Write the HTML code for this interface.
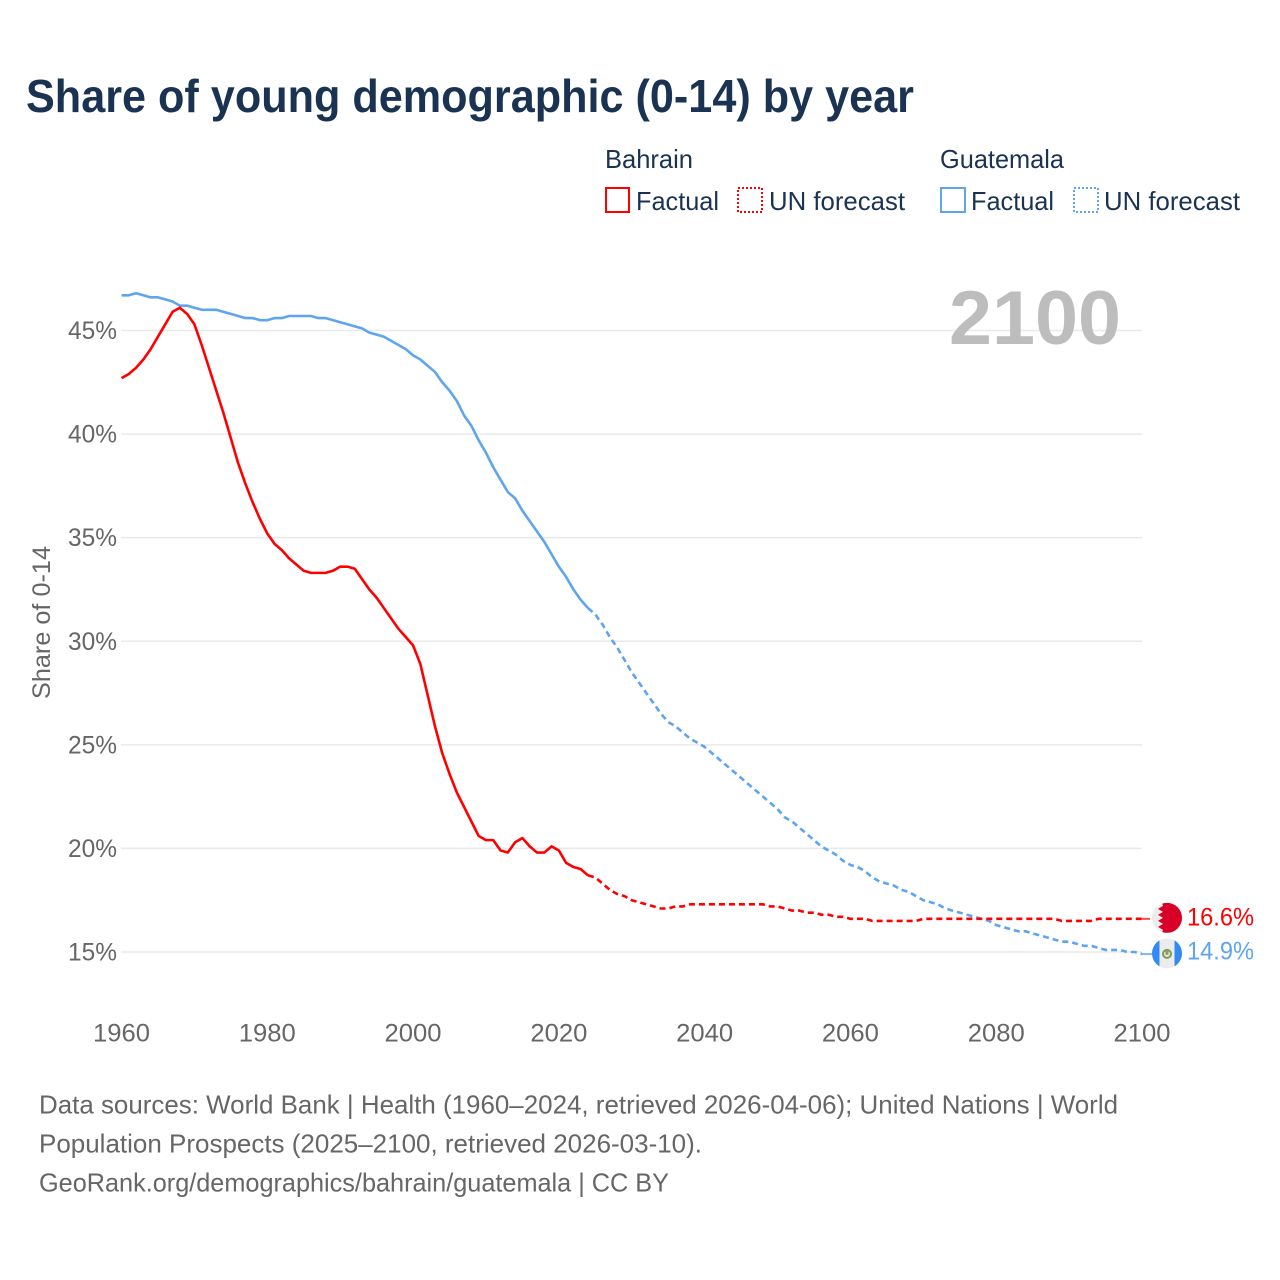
<!DOCTYPE html>
<html lang="en">
<head>
<meta charset="utf-8">
<title>Share of young demographic (0-14) by year</title>
<style>
html,body{margin:0;padding:0;background:#fff;}
svg{display:block;font-family:"Liberation Sans",sans-serif;}
</style>
</head>
<body>
<svg id="chart" width="1280" height="1280" viewBox="0 0 1280 1280" xmlns="http://www.w3.org/2000/svg">
  <defs>
    <clipPath id="flag-clip"><circle cx="0" cy="0" r="15"></circle></clipPath>
  </defs>
  <rect width="1280" height="1280" fill="#fff"></rect>
  <text x="26" y="112" font-size="46" font-weight="700" fill="#1a3352" textLength="888" lengthAdjust="spacingAndGlyphs">Share of young demographic (0-14) by year</text>

  <g font-size="26" fill="#1a3352">
    <text x="605" y="168" textLength="88" lengthAdjust="spacingAndGlyphs">Bahrain</text>
    <rect x="606" y="188" width="23" height="24" fill="none" stroke="#ff0000" stroke-width="2"></rect>
    <text x="636" y="210" textLength="83" lengthAdjust="spacingAndGlyphs">Factual</text>
    <rect x="738" y="188" width="24" height="24" fill="none" stroke="#ff0000" stroke-width="2" stroke-dasharray="2 2"></rect>
    <text x="769" y="210" textLength="136" lengthAdjust="spacingAndGlyphs">UN forecast</text>
    <text x="940" y="168" textLength="124" lengthAdjust="spacingAndGlyphs">Guatemala</text>
    <rect x="941" y="188" width="24" height="24" fill="none" stroke="#5fa5ee" stroke-width="2"></rect>
    <text x="971" y="210" textLength="83" lengthAdjust="spacingAndGlyphs">Factual</text>
    <rect x="1074" y="188" width="24" height="24" fill="none" stroke="#5fa5ee" stroke-width="2" stroke-dasharray="2 2"></rect>
    <text x="1104" y="210" textLength="136" lengthAdjust="spacingAndGlyphs">UN forecast</text>
  </g>

  <text transform="translate(50,699) rotate(-90)" font-size="25" fill="#666" textLength="153" lengthAdjust="spacingAndGlyphs">Share of 0-14</text>

  <g id="grid"></g>
  <g id="y-ticks"></g>
  <g id="x-ticks"></g>

  <text x="949" y="344" font-size="76" font-weight="700" fill="#bdbdbd" textLength="172" lengthAdjust="spacingAndGlyphs">2100</text>

  <g id="series"></g>
  <g id="end-markers"></g>

  <g font-size="26" fill="#666">
    <text x="39" y="1113.5" textLength="1079" lengthAdjust="spacingAndGlyphs">Data sources: World Bank | Health (1960–2024, retrieved 2026-04-06); United Nations | World</text>
    <text x="39" y="1152.5" textLength="663" lengthAdjust="spacingAndGlyphs">Population Prospects (2025–2100, retrieved 2026-03-10).</text>
    <text x="39" y="1191.5" textLength="630" lengthAdjust="spacingAndGlyphs">GeoRank.org/demographics/bahrain/guatemala | CC BY</text>
  </g>
</svg>
<script>
const xTickYears = [1960, 1980, 2000, 2020, 2040, 2060, 2080, 2100];
const yTickValues = [15, 20, 25, 30, 35, 40, 45];
const factualStartYear = 1960;
const forecastStartYear = 2024;
const bahrainFactual = [
  42.7,42.9,43.2,43.6,44.1,44.7,45.3,45.9,46.1,45.8,
  45.3,44.3,43.2,42.1,41.0,39.8,38.6,37.6,36.7,35.9,
  35.2,34.7,34.4,34.0,33.7,33.4,33.3,33.3,33.3,33.4,
  33.6,33.6,33.5,33.0,32.5,32.1,31.6,31.1,30.6,30.2,
  29.8,28.9,27.4,25.9,24.6,23.6,22.7,22.0,21.3,20.6,
  20.4,20.4,19.9,19.8,20.3,20.5,20.1,19.8,19.8,20.1,
  19.9,19.3,19.1,19.0,18.7
];
const bahrainForecast = [
  18.7,18.6,18.3,18.0,17.8,17.7,
  17.5,17.4,17.3,17.2,17.1,17.1,17.2,17.2,17.3,17.3,
  17.3,17.3,17.3,17.3,17.3,17.3,17.3,17.3,17.3,17.2,
  17.2,17.1,17.0,17.0,16.9,16.9,16.8,16.8,16.7,16.7,
  16.6,16.6,16.6,16.5,16.5,16.5,16.5,16.5,16.5,16.5,
  16.6,16.6,16.6,16.6,16.6,16.6,16.6,16.6,16.6,16.6,
  16.6,16.6,16.6,16.6,16.6,16.6,16.6,16.6,16.6,16.5,
  16.5,16.5,16.5,16.5,16.6,16.6,16.6,16.6,16.6,16.6,16.6
];
const guatemalaFactual = [
  46.7,46.7,46.8,46.7,46.6,46.6,46.5,46.4,46.2,46.2,
  46.1,46.0,46.0,46.0,45.9,45.8,45.7,45.6,45.6,45.5,
  45.5,45.6,45.6,45.7,45.7,45.7,45.7,45.6,45.6,45.5,
  45.4,45.3,45.2,45.1,44.9,44.8,44.7,44.5,44.3,44.1,
  43.8,43.6,43.3,43.0,42.5,42.1,41.6,40.9,40.4,39.7,
  39.1,38.4,37.8,37.2,36.9,36.3,35.8,35.3,34.8,34.2,
  33.6,33.1,32.5,32.0,31.6
];
const guatemalaForecast = [
  31.6,31.3,30.8,30.2,29.7,29.1,
  28.5,28.0,27.5,27.0,26.5,26.1,25.9,25.6,25.3,25.1,
  24.9,24.6,24.3,24.0,23.7,23.4,23.1,22.8,22.5,22.2,
  21.9,21.5,21.3,21.0,20.7,20.4,20.1,19.9,19.7,19.4,
  19.2,19.1,18.9,18.6,18.4,18.3,18.2,18.0,17.9,17.7,
  17.5,17.4,17.3,17.1,17.0,16.9,16.8,16.7,16.6,16.5,
  16.3,16.2,16.1,16.0,16.0,15.9,15.8,15.7,15.6,15.5,
  15.5,15.4,15.3,15.3,15.2,15.1,15.1,15.1,15.0,15.0,14.9
];

const NS = 'http://www.w3.org/2000/svg';
const RED = '#ff0000';
const BLUE = '#5fa5ee';
const LINE_WIDTH = 2.6;
function x(year) { return 121.5 + (year - 1960) * (1142 - 121.5) / 140; }
function y(value) { return 952 - (value - 15) * (952 - 330.5) / 30; }
function make(tag, attrs, parent) {
  const el = document.createElementNS(NS, tag);
  for (const k in attrs) el.setAttribute(k, attrs[k]);
  parent.appendChild(el);
  return el;
}
function pathFor(values, startYear) {
  return values.map(function (v, i) {
    return (i ? 'L' : 'M') + x(startYear + i).toFixed(2) + ' ' + y(v).toFixed(2);
  }).join(' ');
}

const gridG = document.getElementById('grid');
const yG = document.getElementById('y-ticks');
const xG = document.getElementById('x-ticks');
const seriesG = document.getElementById('series');
const markersG = document.getElementById('end-markers');

yTickValues.forEach(function (v) {
  const line = make('line', {x1: 121, x2: 1142, y1: y(v), y2: y(v), stroke: '#e9e9e9', 'stroke-width': 1.5}, gridG);
  
  
  const t = make('text', {x: 117, y: y(v) + 8.5, 'text-anchor': 'end', 'font-size': 25, fill: '#666', textLength: 49, lengthAdjust: 'spacingAndGlyphs'}, yG);
  
  
  t.textContent = v + '%';
});

xTickYears.forEach(function (yr) {
  const t = make('text', {x: x(yr), y: 1041.5, 'text-anchor': 'middle', 'font-size': 25, fill: '#666', textLength: 57, lengthAdjust: 'spacingAndGlyphs'}, xG);
  
  
  t.textContent = yr;
});

const blueFactualLine = make('path', {d: pathFor(guatemalaFactual, factualStartYear), fill: 'none', stroke: BLUE, 'stroke-width': LINE_WIDTH, 'stroke-linejoin': 'round'}, seriesG);



const blueForecastLine = make('path', {d: pathFor(guatemalaForecast, forecastStartYear), fill: 'none', stroke: BLUE, 'stroke-width': LINE_WIDTH, 'stroke-dasharray': '6 4', 'stroke-linejoin': 'round'}, seriesG);



const redFactualLine = make('path', {d: pathFor(bahrainFactual, factualStartYear), fill: 'none', stroke: RED, 'stroke-width': LINE_WIDTH, 'stroke-linejoin': 'round'}, seriesG);



const redForecastLine = make('path', {d: pathFor(bahrainForecast, forecastStartYear), fill: 'none', stroke: RED, 'stroke-width': LINE_WIDTH, 'stroke-dasharray': '6 4', 'stroke-linejoin': 'round'}, seriesG);



const redLast = bahrainForecast[bahrainForecast.length - 1];
const blueLast = guatemalaForecast[guatemalaForecast.length - 1];

const redLink = make('line', {x1: x(2100), x2: 1150, y1: y(redLast), y2: y(redLast), stroke: RED, 'stroke-width': 2, opacity: 0.7}, markersG);



const blueLink = make('line', {x1: x(2100), x2: 1152, y1: y(blueLast), y2: y(blueLast), stroke: BLUE, 'stroke-width': 2, opacity: 0.8}, markersG);



/* Bahrain flag */
const bhFlag = make('g', {transform: 'translate(1167,' + (y(redLast) - 1) + ')', 'clip-path': 'url(#flag-clip)'}, markersG);


make('rect', {x: -15, y: -15, width: 30, height: 30, fill: '#ececec'}, bhFlag);
make('polygon', {points: '-5,-15 15,-15 15,15 -5,15 -4,12 -9,9 -4,6 -9,3 -4,0 -9,-3 -4,-6 -9,-9 -4,-12', fill: '#d80027'}, bhFlag);

const redLabel = make('text', {x: 1187, y: y(redLast) + 6.5, 'font-size': 25, fill: RED, textLength: 67, lengthAdjust: 'spacingAndGlyphs'}, markersG);


redLabel.textContent = redLast.toFixed(1) + '%';

/* Guatemala flag */
const gtFlag = make('g', {transform: 'translate(1167,' + (y(blueLast) - 0.7) + ')', 'clip-path': 'url(#flag-clip)'}, markersG);


make('rect', {x: -15, y: -15, width: 30, height: 30, fill: '#ececec'}, gtFlag);
make('rect', {x: -15, y: -15, width: 7.5, height: 30, fill: '#338af3'}, gtFlag);
make('rect', {x: 7.5, y: -15, width: 7.5, height: 30, fill: '#338af3'}, gtFlag);
make('circle', {cx: 0, cy: 0.5, r: 4, fill: 'none', stroke: '#7a9e4a', 'stroke-width': 2}, gtFlag);
make('rect', {x: -1.5, y: -2.5, width: 3, height: 4, fill: '#a08f70'}, gtFlag);

const blueLabel = make('text', {x: 1187, y: y(blueLast) + 5.5, 'font-size': 25, fill: BLUE, textLength: 67, lengthAdjust: 'spacingAndGlyphs'}, markersG);


blueLabel.textContent = blueLast.toFixed(1) + '%';
</script>
</body>
</html>
